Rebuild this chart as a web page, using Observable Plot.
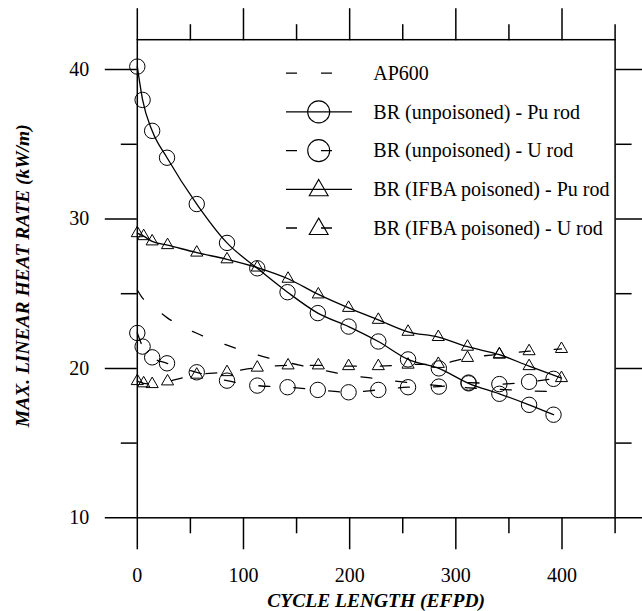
<!DOCTYPE html>
<html><head><meta charset="utf-8">
<script src="https://cdn.jsdelivr.net/npm/d3@7"></script>
<script src="https://cdn.jsdelivr.net/npm/@observablehq/plot@0.6"></script>
<style>body{margin:0;background:#fff}</style>
</head><body><div id="chart"></div>
<script>
// ---- data ----
const cycUnp = [0, 5, 14, 28, 56, 84.5, 113, 141.5, 170, 199, 227, 255, 284, 312, 341, 369, 392];
const cycIfba = [0, 6, 14, 28.5, 56, 84.5, 113, 142, 170.5, 199, 227, 255, 283.5, 311, 341, 369, 399.5];
const ap600 = [25.25, 24.7, 24.2, 23.4, 22.35, 21.55, 20.9, 20.4, 19.95, 19.55, 19.3, 19.05, 18.85, 18.7, 18.6, 18.5, 18.45];
const unpPu = [40.2, 37.97, 35.9, 34.1, 31.0, 28.4, 26.7, 25.1, 23.7, 22.8, 21.8, 20.6, 20.0, 19.0, 18.3, 17.56, 16.9];
const unpU = [22.37, 21.46, 20.74, 20.34, 19.74, 19.18, 18.85, 18.74, 18.56, 18.4, 18.56, 18.74, 18.78, 19.05, 18.95, 19.1, 19.3];
const ifbaPu = [29.05, 28.85, 28.5, 28.25, 27.75, 27.3, 26.75, 26.0, 24.95, 24.05, 23.25, 22.45, 22.1, 21.45, 20.92, 20.15, 19.35];
const ifbaU = [19.15, 19.0, 18.95, 19.13, 19.58, 19.75, 20.05, 20.2, 20.2, 20.15, 20.15, 20.25, 20.3, 20.7, 20.95, 21.15, 21.3];

const xMajor = [0, 100, 200, 300, 400];
const xMinor = [50, 150, 250, 350, 450];
const yMajor = [10, 20, 30, 40];
const yMinor = [15, 25, 35];

const xTitle = "CYCLE LENGTH (EFPD)";
const yTitle = "MAX. LINEAR HEAT RATE (kW/m)";
const legendLabels = ["AP600", "BR (unpoisoned) - Pu rod", "BR (unpoisoned) - U rod", "BR (IFBA poisoned) - Pu rod", "BR (IFBA poisoned) - U rod"];
const legendSymbols = [null, "circle", "circle", "triangle", "triangle"];
const legendDashed = [true, false, true, false, true];

const rows = (xs, ys) => xs.map((x, i) => ({x, y: ys[i]}));
const dAP = rows(cycUnp, ap600);
const dUPu = rows(cycUnp, unpPu);
const dUU = rows(cycUnp, unpU);
const dIPu = rows(cycIfba, ifbaPu);
const dIU = rows(cycIfba, ifbaU);

const DASH = "11,24";
const LW = 1.3;
const CR = 7.7, TR = 4.5;

function legend(index, scales, values, dims) {
  const g = d3.create("svg:g");
  const L = dims.marginLeft;
  legendLabels.forEach((lab, i) => {
    const y = dims.marginTop + 34 + i * 38.7;
    const x0 = L + 149.2, x1 = L + 215.2, xs = L + 181.9, xt = L + 236.5;
    g.append("line").attr("x1", x0).attr("x2", x1).attr("y1", y).attr("y2", y)
      .attr("stroke", "black").attr("stroke-width", LW)
      .attr("stroke-dasharray", legendDashed[i] ? DASH : null);
    if (legendSymbols[i] === "circle") {
      g.append("circle").attr("cx", xs).attr("cy", y).attr("r", 11)
        .attr("fill", "none").attr("stroke", "black").attr("stroke-width", 1.1);
    } else if (legendSymbols[i] === "triangle") {
      g.append("path").attr("transform", `translate(${xs},${y + 1})`)
        .attr("d", d3.symbol(d3.symbolTriangle, Math.PI * 7 * 7)())
        .attr("fill", "none").attr("stroke", "black").attr("stroke-width", 1.1);
    }
    g.append("text").attr("x", xt).attr("y", y).attr("dy", "0.33em")
      .attr("text-anchor", "start")
      .attr("fill", "black").attr("font-size", 20).text(lab);
  });
  return g.node();
}

const chart = Plot.plot({
  width: 642, height: 611,
  marginLeft: 136.8, marginRight: 27.4, marginTop: 39.2, marginBottom: 93.7,
  x: {domain: [0, 450]},
  y: {domain: [10, 42]},
  style: {fontFamily: "'Liberation Serif', 'Times New Roman', serif", fontSize: "20px", background: "white", color: "black", overflow: "visible"},
  marks: [
    Plot.frame({stroke: "black", strokeWidth: 1.5}),
    Plot.axisX(xMajor, {anchor: "bottom", tickSize: 32, tickPadding: 18, strokeWidth: 1.5, label: null, fontSize: 20}),
    Plot.axisX(xMinor, {anchor: "bottom", tickSize: 16, tickFormat: () => "", strokeWidth: 1.5, label: null}),
    Plot.axisX(xMajor, {anchor: "top", tickSize: 32, tickFormat: () => "", strokeWidth: 1.5, label: null}),
    Plot.axisX(xMinor, {anchor: "top", tickSize: 16, tickFormat: () => "", strokeWidth: 1.5, label: null}),
    Plot.axisY(yMajor, {anchor: "left", tickSize: 32, tickPadding: 16, strokeWidth: 1.5, label: null, fontSize: 20}),
    Plot.axisY(yMinor, {anchor: "left", tickSize: 16, tickFormat: () => "", strokeWidth: 1.5, label: null}),
    Plot.axisY(yMajor, {anchor: "right", tickSize: 32, tickFormat: () => "", strokeWidth: 1.5, label: null}),
    Plot.axisY(yMinor, {anchor: "right", tickSize: 16, tickFormat: () => "", strokeWidth: 1.5, label: null}),
    Plot.line(dAP, {x: "x", y: "y", curve: "monotone-x", stroke: "black", strokeWidth: LW, strokeDasharray: DASH}),
    Plot.line(dUPu, {x: "x", y: "y", curve: "monotone-x", stroke: "black", strokeWidth: LW}),
    Plot.line(dUU, {x: "x", y: "y", curve: "monotone-x", stroke: "black", strokeWidth: LW, strokeDasharray: DASH}),
    Plot.line(dIPu, {x: "x", y: "y", curve: "monotone-x", stroke: "black", strokeWidth: LW}),
    Plot.line(dIU, {x: "x", y: "y", curve: "monotone-x", stroke: "black", strokeWidth: LW, strokeDasharray: DASH}),
    Plot.dot(dUPu, {x: "x", y: "y", r: CR, stroke: "black", fill: "none", strokeWidth: 1}),
    Plot.dot(dUU, {x: "x", y: "y", r: CR, stroke: "black", fill: "none", strokeWidth: 1}),
    Plot.dot(dIPu, {x: "x", y: "y", r: TR, symbol: "triangle", stroke: "black", fill: "none", strokeWidth: 1}),
    Plot.dot(dIU, {x: "x", y: "y", r: TR, symbol: "triangle", stroke: "black", fill: "none", strokeWidth: 1}),
    Plot.text([xTitle], {frameAnchor: "bottom", dy: 83, lineAnchor: "middle", textAnchor: "middle", fontWeight: "bold", fontStyle: "italic", fontSize: 19.5, fill: "black"}),
    Plot.text([yTitle], {frameAnchor: "left", dx: -115, dy: -3, rotate: -90, lineAnchor: "middle", textAnchor: "middle", fontWeight: "bold", fontStyle: "italic", fontSize: 19.5, fill: "black"}),
    legend
  ]
});
document.getElementById("chart").appendChild(chart);
</script>
</body></html>
